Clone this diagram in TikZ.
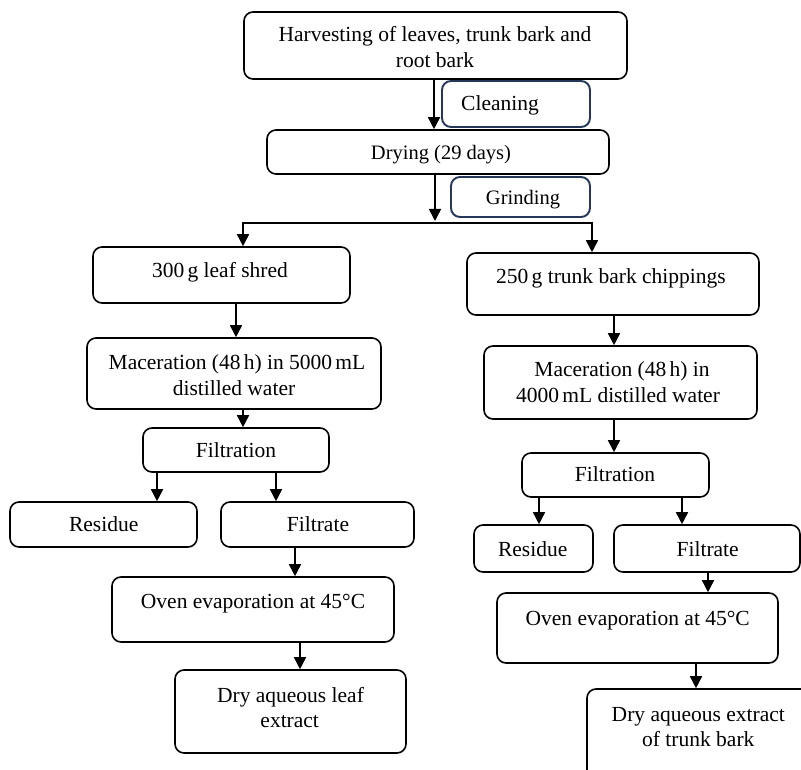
\documentclass[tikz,border=0pt]{standalone}
\usepackage{fontspec}
\setmainfont{Liberation Serif}
\usetikzlibrary{arrows.meta}
\definecolor{navy}{RGB}{38,55,90}
\tikzset{
 box/.style={draw=black, line width=1.6pt, rounded corners=9pt, inner sep=0pt, shape=rectangle},
 navybox/.style={box, draw=navy, line width=1.9pt},
 txt/.style={font=\fontsize{21.5}{25}\selectfont, inner sep=0pt, anchor=base},
 txts/.style={txt, font=\fontsize{20.5}{24}\selectfont},
 arr/.style={line width=1.6pt, -{Triangle[length=12pt,width=12pt]}},
 ln/.style={line width=1.6pt, line cap=rect}
}
\newcommand{\nsp}{\kern0.15em}
\begin{document}
\begin{tikzpicture}[x=1pt,y=-1pt]
\useasboundingbox (0,0) rectangle (801,770);
\clip (0,0) rectangle (801,770);
\fill[white] (0,0) rectangle (801,770);

% boxes
\node[box, minimum width=383pt, minimum height=67pt] (harv) at (435.5,45.5) {};
\node[navybox, minimum width=148pt, minimum height=46pt] (clean) at (516,104) {};
\node[box, minimum width=342pt, minimum height=44pt] (dry) at (438,152) {};
\node[navybox, minimum width=139pt, minimum height=40pt] (grind) at (520.5,197) {};
\node[box, minimum width=257pt, minimum height=56pt] (leaf) at (221.5,275) {};
\node[box, minimum width=294pt, minimum height=71pt] (macL) at (234,373.5) {};
\node[box, minimum width=186pt, minimum height=44pt] (filtL) at (236,450) {};
\node[box, minimum width=187pt, minimum height=45pt] (resL) at (103.5,524.5) {};
\node[box, minimum width=193pt, minimum height=45pt] (filtrL) at (317.5,524.5) {};
\node[box, minimum width=282pt, minimum height=65pt] (ovenL) at (253,609.5) {};
\node[box, minimum width=231pt, minimum height=83pt] (dryL) at (290.5,711.5) {};
\node[box, minimum width=292pt, minimum height=62pt] (bark) at (613,284) {};
\node[box, minimum width=273pt, minimum height=73pt] (macR) at (620.5,382.5) {};
\node[box, minimum width=187pt, minimum height=44pt] (filtR) at (615.5,475) {};
\node[box, minimum width=119pt, minimum height=47pt] (resR) at (533.5,548.5) {};
\node[box, minimum width=186pt, minimum height=47pt] (filtrR) at (707,548.5) {};
\node[box, minimum width=281pt, minimum height=70pt] (ovenR) at (637.5,628) {};
\node[box, minimum width=243pt, minimum height=111pt] (dryR) at (708.5,744.5) {};

% texts
\node[txt] (harvT1) at (435,41.7) {Harvesting of leaves, trunk bark and};
\node[txt] (harvT2) at (435,67.3) {root bark};
\node[txt] (cleanT) at (500,111) {Cleaning};
\node[txts] (dryT) at (441,160) {Drying (29 days)};
\node[txts] (grindT) at (523,205) {Grinding};
\node[txt] (leafT) at (220,277.7) {300\nsp g leaf shred};
\node[txt] (macLT1) at (237,369.3) {Maceration (48\nsp h) in 5000\nsp mL};
\node[txt] (macLT2) at (234,395.7) {distilled water};
\node[txt] (filtLT) at (236,457.7) {Filtration};
\node[txt] (resLT) at (103.7,531.7) {Residue};
\node[txt] (filtrLT) at (318,531.7) {Filtrate};
\node[txt] (ovenLT) at (253,608.3) {Oven evaporation at 45°C};
\node[txt] (dryLT1) at (290.5,702.7) {Dry aqueous leaf};
\node[txt] (dryLT2) at (289.7,727.3) {extract};
\node[txt] (barkT) at (611,283.3) {250\nsp g trunk bark chippings};
\node[txt] (macRT1) at (622,376.7) {Maceration (48\nsp h) in};
\node[txt] (macRT2) at (618,402.7) {4000\nsp mL distilled water};
\node[txt] (filtRT) at (615,481.7) {Filtration};
\node[txt] (resRT) at (532.7,556.7) {Residue};
\node[txt] (filtrRT) at (707.7,556.7) {Filtrate};
\node[txt] (ovenRT) at (637.7,625) {Oven evaporation at 45°C};
\node[txt] (dryRT1) at (698.3,721.7) {Dry aqueous extract};
\node[txt] (dryRT2) at (698.3,746) {of trunk bark};

% columns
\coordinate (c1) at (434,0);
\coordinate (jM) at (435,221);
\coordinate (jL) at (243,223);
\coordinate (jR) at (592,223);
\coordinate (c2) at (236,0);
\coordinate (c3) at (243,0);
\coordinate (c4) at (157,0);
\coordinate (c5) at (276,0);
\coordinate (c6) at (295,0);
\coordinate (c7) at (300,0);
\coordinate (c8) at (614,0);
\coordinate (c9) at (539,0);
\coordinate (c10) at (682,0);
\coordinate (c11) at (708,0);
\coordinate (c12) at (696,0);

% connectors
\draw[arr] (harv.south -| c1) -- (dry.north -| c1);
\draw[arr] (dry.south -| jM) -- (jM);
\draw[ln] (jL) -- (jR);
\draw[arr] (jL) -- (leaf.north -| jL);
\draw[arr] (jR) -- (bark.north -| jR);
\draw[arr] (leaf.south -| c2) -- (macL.north -| c2);
\draw[arr] (macL.south -| c3) -- (filtL.north -| c3);
\draw[arr] (filtL.south -| c4) -- (resL.north -| c4);
\draw[arr] (filtL.south -| c5) -- (filtrL.north -| c5);
\draw[arr] (filtrL.south -| c6) -- (ovenL.north -| c6);
\draw[arr] (ovenL.south -| c7) -- (dryL.north -| c7);
\draw[arr] (bark.south -| c8) -- (macR.north -| c8);
\draw[arr] (macR.south -| c8) -- (filtR.north -| c8);
\draw[arr] (filtR.south -| c9) -- (resR.north -| c9);
\draw[arr] (filtR.south -| c10) -- (filtrR.north -| c10);
\draw[arr] (filtrR.south -| c11) -- (ovenR.north -| c11);
\draw[arr] (ovenR.south -| c12) -- (dryR.north -| c12);
\end{tikzpicture}
\end{document}
